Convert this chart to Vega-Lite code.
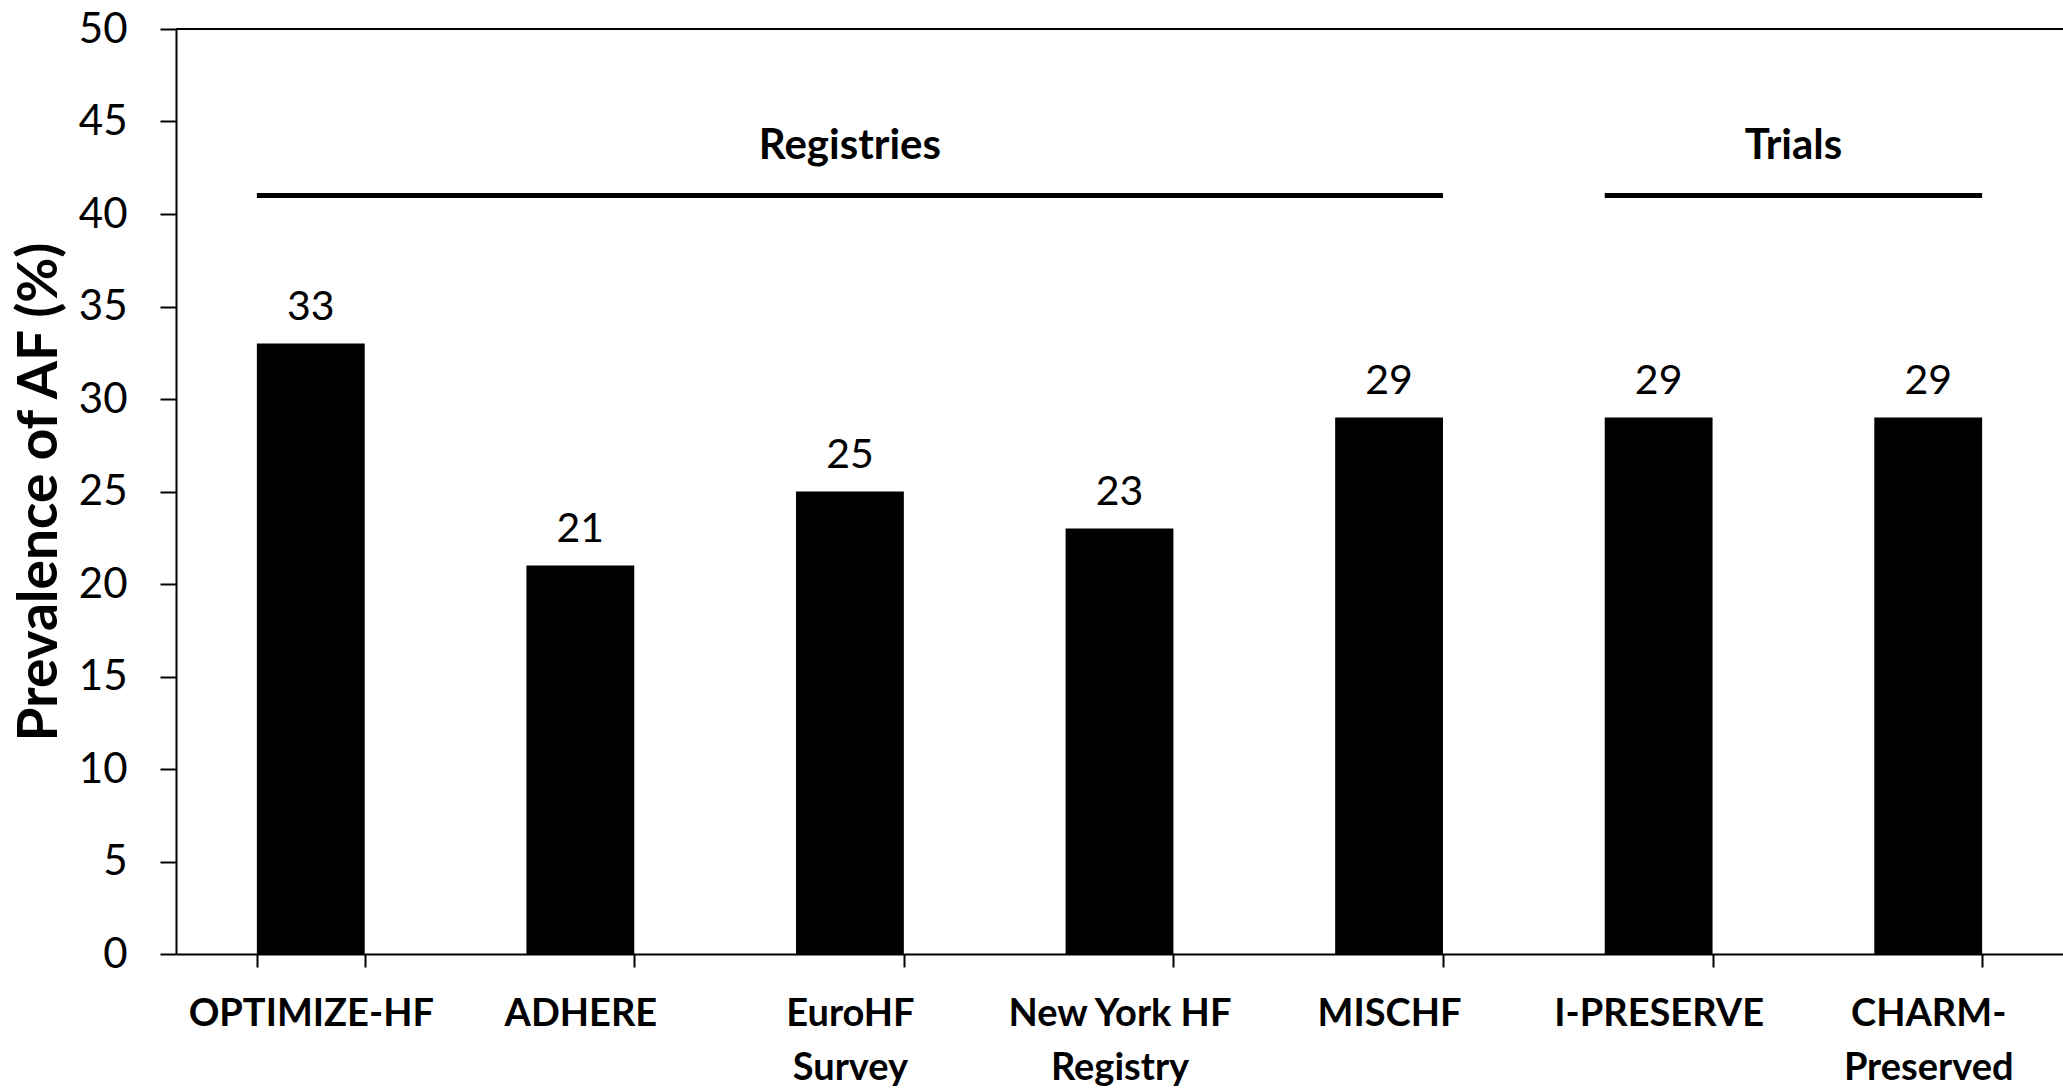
{
  "$schema": "https://vega.github.io/schema/vega-lite/v6.json",
  "autosize": "none",
  "width": 1887,
  "height": 925,
  "padding": {"left": 176, "top": 29, "right": 0, "bottom": 138},
  "background": "white",
  "config": {"view": {"stroke": null}, "font": "Lato"},
  "datasets": {
    "bars": [
      {"study": "OPTIMIZE-HF", "af": 33},
      {"study": "ADHERE", "af": 21},
      {"study": "EuroHF Survey", "af": 25},
      {"study": "New York HF Registry", "af": 23},
      {"study": "MISCHF", "af": 29},
      {"study": "I-PRESERVE", "af": 29},
      {"study": "CHARM-Preserved", "af": 29}
    ],
    "groups": [
      {"group": "Registries", "start": "OPTIMIZE-HF", "end": "MISCHF", "level": 41},
      {"group": "Trials", "start": "I-PRESERVE", "end": "CHARM-Preserved", "level": 41}
    ],
    "reg": [{"group": "Registries", "at": "EuroHF Survey", "pos": 43.7}],
    "tri": [{"group": "Trials", "at": "I-PRESERVE", "pos": 43.7}]
  },
  "layer": [
    {
      "data": {"name": "bars"},
      "mark": {"type": "bar", "color": "black"},
      "encoding": {
        "x": {
          "field": "study", "type": "nominal", "sort": null,
          "scale": {"paddingInner": 0.6, "paddingOuter": 0.3},
          "axis": {
            "title": null, "labelAngle": 0, "labelFontSize": 38, "labelFontWeight": "bold",
            "labelColor": "black", "labelLimit": 0, "domainColor": "black", "domainWidth": 2,
            "tickColor": "black", "tickWidth": 2, "tickSize": 13, "tickBand": "extent",
            "labelPadding": 28, "labelLineHeight": 54,
            "labelExpr": "datum.value == 'EuroHF Survey' ? ['EuroHF', 'Survey'] : datum.value == 'New York HF Registry' ? ['New York HF', 'Registry'] : datum.value == 'CHARM-Preserved' ? ['CHARM-', 'Preserved'] : datum.value"
          }
        },
        "y": {
          "field": "af", "type": "quantitative",
          "scale": {"domain": [0, 50], "nice": false},
          "axis": {
            "title": "Prevalence of AF (%)", "titleFontSize": 55, "titleFontWeight": "bold",
            "titleColor": "black", "titlePadding": 10,
            "values": [0, 5, 10, 15, 20, 25, 30, 35, 40, 45, 50],
            "labelFontSize": 42, "labelColor": "black", "labelPadding": 33,
            "domainColor": "black", "domainWidth": 2, "tickColor": "black", "tickWidth": 2,
            "tickSize": 16, "grid": false
          }
        }
      }
    },
    {
      "data": {"name": "bars"},
      "mark": {"type": "text", "fontSize": 41, "color": "black", "baseline": "alphabetic", "dy": -24},
      "encoding": {
        "x": {"field": "study", "type": "nominal", "sort": null},
        "y": {"field": "af", "type": "quantitative"},
        "text": {"field": "af"}
      }
    },
    {
      "data": {"values": [{"top": 50}]},
      "mark": {"type": "rule", "color": "black", "strokeWidth": 2},
      "encoding": {"y": {"field": "top", "type": "quantitative"}}
    },
    {
      "data": {"name": "groups"},
      "mark": {"type": "rule", "color": "black", "strokeWidth": 5},
      "encoding": {
        "x": {"field": "start", "type": "nominal", "sort": null, "bandPosition": 0},
        "x2": {"field": "end", "bandPosition": 1},
        "y": {"field": "level", "type": "quantitative"}
      }
    },
    {
      "data": {"name": "reg"},
      "mark": {"type": "text", "fontSize": 42, "fontWeight": "bold", "color": "black", "baseline": "middle"},
      "encoding": {
        "x": {"field": "at", "type": "nominal", "sort": null},
        "y": {"field": "pos", "type": "quantitative"},
        "text": {"field": "group"}
      }
    },
    {
      "data": {"name": "tri"},
      "mark": {"type": "text", "fontSize": 42, "fontWeight": "bold", "color": "black", "baseline": "middle"},
      "encoding": {
        "x": {"field": "at", "type": "nominal", "sort": null, "bandPosition": 1.75},
        "y": {"field": "pos", "type": "quantitative"},
        "text": {"field": "group"}
      }
    }
  ]
}
